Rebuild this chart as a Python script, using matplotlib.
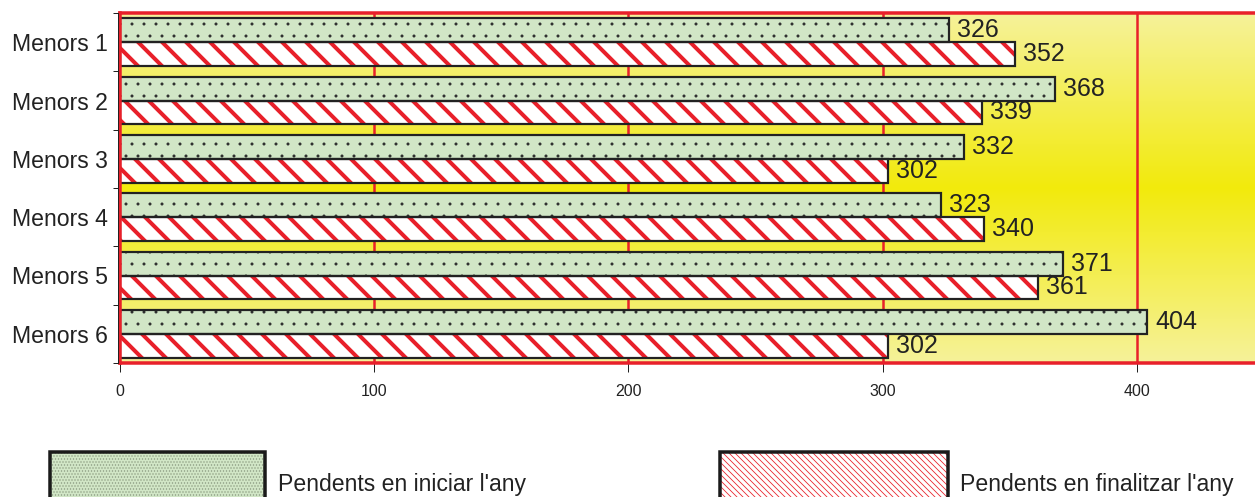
import matplotlib
matplotlib.use("Agg")
import matplotlib.pyplot as plt
import numpy as np
from matplotlib.patches import Rectangle

categories = ["Menors 1", "Menors 2", "Menors 3", "Menors 4", "Menors 5", "Menors 6"]
iniciar = [326, 368, 332, 323, 371, 404]
finalitzar = [352, 339, 302, 340, 361, 302]
legend_labels = ["Pendents en iniciar l'any", "Pendents en finalitzar l'any"]
xticks = [0, 100, 200, 300, 400]

plt.rcParams["font.family"] = ["Liberation Sans", "DejaVu Sans"]

red = "#e8202a"
green = "#d1e6c6"
txt = "#222222"

W, H = 1255, 497
fig = plt.figure(figsize=(W / 72, H / 72), dpi=72)
ax = fig.add_axes([120 / W, 1 - 363 / H, (W - 120) / W, 350 / H])

# gradient background, pale at top/bottom, strong yellow in the middle
t = np.abs(np.linspace(-1, 1, 256))[:, None]
pale = np.array([246, 242, 154]) / 255
strong = np.array([242, 234, 12]) / 255
grad = strong + (pale - strong) * t[..., None]
grad = np.repeat(grad, 2, axis=1)
ax.imshow(grad, extent=[0, 446.5, 5.5, -0.5], aspect="auto", zorder=0)

y = np.arange(len(categories))
h = 0.41
with plt.rc_context({"hatch.linewidth": 0.5}):
	ax.barh(y - h / 2, iniciar, height=h, color=green, edgecolor="#2a2a2a",
		hatch=".", linewidth=0, zorder=3)
with plt.rc_context({"hatch.linewidth": 4.0}):
	ax.barh(y + h / 2, finalitzar, height=h, color="white", edgecolor=red,
		hatch="\\", linewidth=0, zorder=3)
ax.barh(y - h / 2, iniciar, height=h, fill=False, edgecolor="#222222",
	linewidth=2.2, zorder=4)
ax.barh(y + h / 2, finalitzar, height=h, fill=False, edgecolor="#222222",
	linewidth=2.2, zorder=4)

for i in range(len(categories)):
	ax.annotate(str(iniciar[i]), (iniciar[i], y[i] - h / 2), xytext=(8, 0),
		textcoords="offset points", va="center", ha="left", fontsize=25,
		color=txt, zorder=5)
	ax.annotate(str(finalitzar[i]), (finalitzar[i], y[i] + h / 2), xytext=(8, 0),
		textcoords="offset points", va="center", ha="left", fontsize=25,
		color=txt, zorder=5)

for x in xticks[1:]:
	ax.axvline(x, color=red, linewidth=2.5, zorder=1)

ax.set_xlim(0, 446.5)
ax.set_ylim(5.5, -0.5)
ax.set_xticks(xticks)
ax.set_xticklabels([str(v) for v in xticks], fontsize=16, color=txt)
ax.tick_params(axis="x", length=9, width=1, color="#222222", pad=12)
ax.set_yticks(y)
ax.set_yticklabels(categories, fontsize=23, color=txt)
ax.tick_params(axis="y", which="major", length=0, pad=12)
ax.set_yticks(np.arange(-0.5, 6.0, 1.0), minor=True)
ax.tick_params(axis="y", which="minor", length=7, width=1, color="#222222")

for s in ["top", "bottom", "left"]:
	ax.spines[s].set_color(red)
	ax.spines[s].set_linewidth(3.5)
	ax.spines[s].set_zorder(6)
ax.spines["right"].set_visible(False)
# thin dark axis line just left of the red frame
ax.plot([-0.9, -0.9], [-0.5, 5.5], color="#222222", linewidth=1,
	clip_on=False, zorder=7)

# legend drawn by hand below the axes
def fig_rect(x0, y0, x1, y1, **kw):
	r = Rectangle((x0 / W, 1 - y1 / H), (x1 - x0) / W, (y1 - y0) / H,
		transform=fig.transFigure, **kw)
	fig.add_artist(r)

with plt.rc_context({"hatch.linewidth": 0.8}):
	fig_rect(50, 452, 265, 500, facecolor=green, edgecolor="#8a9a80",
		hatch="....", linewidth=0)
	fig_rect(720, 452, 948, 500, facecolor="white", edgecolor=red,
		hatch="\\\\\\\\", linewidth=0)
fig_rect(50, 452, 265, 500, fill=False, edgecolor="#1a1a1a", linewidth=3.5)
fig_rect(720, 452, 948, 500, fill=False, edgecolor="#1a1a1a", linewidth=3.5)
fig.text(278 / W, 1 - 484 / H, legend_labels[0], fontsize=23, color=txt,
	va="center", ha="left")
fig.text(960 / W, 1 - 484 / H, legend_labels[1], fontsize=23, color=txt,
	va="center", ha="left")

fig.savefig("out.png", dpi=72)
